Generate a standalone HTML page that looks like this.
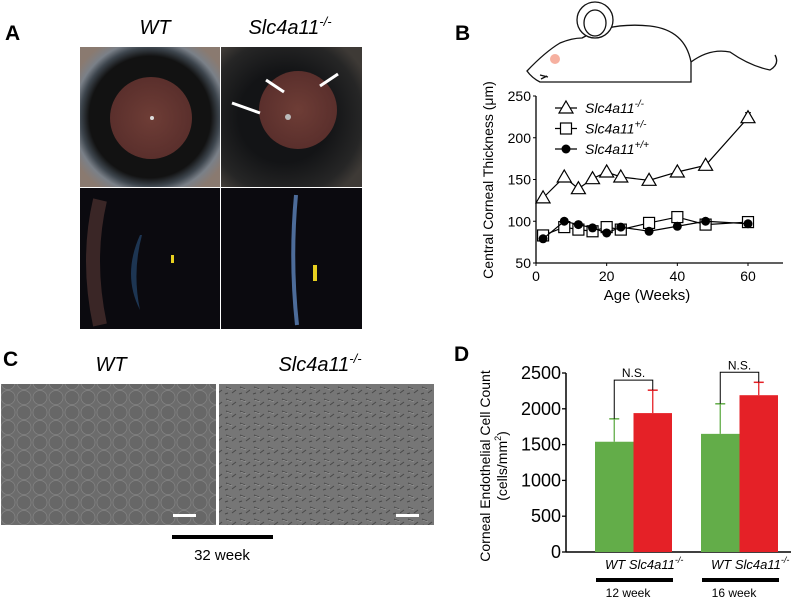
<!DOCTYPE html>
<html><head><meta charset="utf-8"><style>
body{margin:0;background:#fff}
svg{display:block;font-family:"Liberation Sans",Arial,sans-serif}
</style></head><body>
<svg id="fig" width="797" height="600" viewBox="0 0 797 600" xmlns="http://www.w3.org/2000/svg">
<defs>
<radialGradient id="eyeWT" cx="0.5" cy="0.5" r="0.62">
<stop offset="0.7" stop-color="#121212"/><stop offset="0.8" stop-color="#3e464e"/><stop offset="0.88" stop-color="#7a8088"/><stop offset="1" stop-color="#8a7a70"/></radialGradient>
<radialGradient id="eyeKO" cx="0.45" cy="0.5" r="0.65">
<stop offset="0.5" stop-color="#131416"/><stop offset="0.85" stop-color="#262626"/><stop offset="1" stop-color="#3e3a36"/></radialGradient>
<radialGradient id="pupil" cx="0.5" cy="0.5" r="0.5"><stop offset="0" stop-color="#6e3d36"/><stop offset="1" stop-color="#5a2f2c"/></radialGradient>
<pattern id="cells" width="16" height="15" patternUnits="userSpaceOnUse"><rect width="16" height="15" fill="#6c6c6c"/><circle cx="8" cy="7.5" r="7" fill="#676767" stroke="#848484" stroke-width="0.7"/></pattern>
<pattern id="cellsKO" width="14" height="12" patternUnits="userSpaceOnUse"><rect width="14" height="12" fill="#767676"/><path d="M2 3 l5 2 M8 9 l4 -3 M1 10 l3 -1" stroke="#484848" stroke-width="1"/><path d="M3 4 l5 2" stroke="#a0a0a0" stroke-width="0.6"/></pattern>
</defs>

<!-- Panel A -->
<text x="5" y="40" font-size="21" font-weight="bold">A</text>
<text x="155" y="34" font-size="20" font-style="italic" text-anchor="middle">WT</text>
<text x="290" y="34" font-size="20" font-style="italic" text-anchor="middle">Slc4a11<tspan font-size="13" dy="-8">-/-</tspan></text>
<g>
<rect x="80" y="47" width="140" height="140" fill="url(#eyeWT)"/>
<circle cx="151" cy="118" r="41" fill="url(#pupil)"/>
<circle cx="152" cy="118" r="2" fill="#ddd"/>
</g>
<g>
<rect x="221" y="47" width="141" height="140" fill="url(#eyeKO)"/>
<circle cx="298" cy="110" r="39" fill="url(#pupil)"/>
<circle cx="288" cy="117" r="3" fill="#bbb"/>
<path d="M338 74 L320 86 M266 80 L284 92 M232 103 L260 113" stroke="#fff" stroke-width="3"/>
</g>
<g>
<rect x="80" y="188" width="140" height="141" fill="#0b0a0f"/>
<path d="M100 200 Q86 260 100 325" stroke="#3a2626" stroke-width="14" fill="none"/>
<path d="M140 235 Q122 275 140 310 Q132 272 142 235Z" fill="#1d3552"/>
<rect x="171" y="255" width="3" height="8" fill="#e8d020"/>
</g>
<g>
<rect x="221" y="188" width="141" height="141" fill="#0b0a0f"/>
<path d="M296 195 Q290 260 297 325" stroke="#4d6c9a" stroke-width="4" fill="none"/>
<rect x="313" y="265" width="4" height="16" fill="#e8d020"/>
</g>

<!-- Panel B -->
<text x="455" y="40" font-size="21" font-weight="bold">B</text>
<g fill="none" stroke="#111" stroke-width="1.3">
<path d="M527 71 Q545 52 560 43 Q572 38 582 38 Q610 22 650 26 Q685 30 691 62 L691 82 L540 82 Q532 78 527 71Z" fill="#fff"/>
<circle cx="595" cy="20" r="18" fill="#fff"/>
<ellipse cx="595" cy="23" rx="11" ry="13"/>
<path d="M691 62 Q710 48 730 52 Q750 66 770 70 Q780 64 775 55"/>
<path d="M540 75 l8 2 M541 79 l6 -3"/>
</g>
<circle cx="555" cy="59" r="5" fill="#f6b0a0"/>
<g id="chartB"></g>

<!-- Panel C -->
<text x="3" y="366" font-size="21" font-weight="bold">C</text>
<text x="111" y="371" font-size="20" font-style="italic" text-anchor="middle">WT</text>
<text x="320" y="371" font-size="20" font-style="italic" text-anchor="middle">Slc4a11<tspan font-size="13" dy="-8">-/-</tspan></text>
<rect x="1" y="384" width="215" height="141" fill="url(#cells)"/>
<rect x="219" y="384" width="215" height="141" fill="url(#cellsKO)"/>
<rect x="173" y="514" width="23" height="3" fill="#fff"/>
<rect x="396" y="514" width="23" height="3" fill="#fff"/>
<rect x="172" y="535" width="101" height="4" fill="#000"/>
<text x="222" y="560" font-size="15" text-anchor="middle">32 week</text>

<!-- Panel D -->
<text x="454" y="361" font-size="21" font-weight="bold">D</text>
<g id="chartD"></g>
</svg>
<script>
const NS="http://www.w3.org/2000/svg";
function mk(p,t,a,txt){const e=document.createElementNS(NS,t);for(const k in a)e.setAttribute(k,a[k]);if(txt!=null)e.textContent=txt;p.appendChild(e);return e;}

// ---- Chart B data ----
const bWeeks=[2,8,12,16,20,24,32,40,48,60];
const bKO=[128,153,139,151,159,153,149,159,167,224];
const bKOErr=[0,0,0,0,0,0,0,0,0,6];
const bHet=[83,93,90,88,93,90,98,105,96,99];
const bWT=[79,100,96,92,86,93,88,94,100,97];
const bXTicks=[0,20,40,60];
const bYTicks=[50,100,150,200,250];

const gB=document.getElementById('chartB');
const bx=v=>536+(v)*(748-536)/60, by=v=>263-(v-50)*(263-96)/200;
let e=mk(gB,'line',{x1:536,y1:263,x2:783,y2:263,stroke:'#000','stroke-width':1.3});


e=mk(gB,'line',{x1:536,y1:96,x2:536,y2:263,stroke:'#000','stroke-width':1.3});


bYTicks.forEach(t=>{mk(gB,'line',{x1:533,x2:536,y1:by(t),y2:by(t),stroke:'#000'});
e=mk(gB,'text',{x:531,y:by(t)+5,'font-size':14,'text-anchor':'end'},t);

});
bXTicks.forEach(t=>{mk(gB,'line',{x1:bx(t),x2:bx(t),y1:263,y2:266,stroke:'#000'});
e=mk(gB,'text',{x:bx(t),y:281,'font-size':14,'text-anchor':'middle'},t);

});
e=mk(gB,'text',{x:647,y:300,'font-size':15,'text-anchor':'middle'},'Age (Weeks)');


e=mk(gB,'text',{transform:'translate(493,180) rotate(-90)','font-size':14,'text-anchor':'middle'},'Central Corneal Thickness (μm)');


function marker(g,type,x,y){
 if(type==='tri')return mk(g,'path',{d:`M${x} ${y-7}L${x+7} ${y+5}L${x-7} ${y+5}Z`,fill:'#fff',stroke:'#000','stroke-width':1.2});
 if(type==='sq')return mk(g,'rect',{x:x-5.5,y:y-5.5,width:11,height:11,fill:'#fff',stroke:'#000','stroke-width':1.2});
 return mk(g,'circle',{cx:x,cy:y,r:4.5,fill:'#000'});
}
const series=[['ko-series',bKO,'tri'],['het-series',bHet,'sq'],['wt-series',bWT,'dot']];
series.forEach(([nm,vals,type])=>{
 const g=mk(gB,'g',{});
 
 
 mk(g,'polyline',{points:vals.map((v,i)=>bx(bWeeks[i])+','+by(v)).join(' '),fill:'none',stroke:'#000','stroke-width':1.2});
 if(nm==='ko-series')vals.forEach((v,i)=>{if(bKOErr[i]){mk(g,'line',{x1:bx(bWeeks[i]),x2:bx(bWeeks[i]),y1:by(v),y2:by(v+bKOErr[i]),stroke:'#000'});mk(g,'line',{x1:bx(bWeeks[i])-3,x2:bx(bWeeks[i])+3,y1:by(v+bKOErr[i]),y2:by(v+bKOErr[i]),stroke:'#000'});}});
 vals.forEach((v,i)=>{const m=marker(g,type,bx(bWeeks[i]),by(v));
 
 });
});
const legend=[['tri','Slc4a11','-/-'],['sq','Slc4a11','+/-'],['dot','Slc4a11','+/+']];
legend.forEach(([type,t,s],i)=>{const y=108+i*20.5;
 const g=mk(gB,'g',{});
 
 
 mk(g,'line',{x1:555,x2:577,y1:y,y2:y,stroke:'#000','stroke-width':1.2});
 marker(g,type,566,y);
 const tx=mk(g,'text',{x:585,y:y+5,'font-size':14,'font-style':'italic'},t);
 mk(tx,'tspan',{'font-size':10,dy:-6},s);
});

// ---- Chart D data ----
const dGroups=['12 week','16 week'];
const dWT=[1540,1650];
const dWTErr=[320,420];
const dKO=[1940,2190];
const dKOErr=[320,180];
const dYTicks=[0,500,1000,1500,2000,2500];

const gD=document.getElementById('chartD');
const dy=v=>552-v*(552-373)/2500;
const gx=[595,701], bw=38.5;
e=mk(gD,'line',{x1:566,y1:552,x2:791,y2:552,stroke:'#000','stroke-width':1.5});


e=mk(gD,'line',{x1:566,y1:373,x2:566,y2:552,stroke:'#000','stroke-width':1.5});


dYTicks.forEach(t=>{mk(gD,'line',{x1:562,x2:566,y1:dy(t),y2:dy(t),stroke:'#000','stroke-width':1.3});
e=mk(gD,'text',{x:561,y:dy(t)+6,'font-size':18,'text-anchor':'end'},t);

});
e=mk(gD,'text',{transform:'translate(490,466) rotate(-90)','font-size':14,'text-anchor':'middle'},'Corneal Endothelial Cell Count');


e=mk(gD,'text',{transform:'translate(507,466) rotate(-90)','font-size':14,'text-anchor':'middle'},'(cells/mm');


mk(e,'tspan',{'font-size':9,dy:-6},'2');mk(e,'tspan',{dy:6},')');
dGroups.forEach((gname,i)=>{
 const x0=gx[i];
 [[dWT[i],dWTErr[i],'#63ad49',x0,'bar-wt'],[dKO[i],dKOErr[i],'#e52127',x0+bw,'bar-ko']].forEach(([v,er,c,x,nm])=>{
  const cx=x+bw/2;
  mk(gD,'line',{x1:cx,x2:cx,y1:dy(v),y2:dy(v+er),stroke:c,'stroke-width':1.3});
  mk(gD,'line',{x1:cx-5,x2:cx+5,y1:dy(v+er),y2:dy(v+er),stroke:c,'stroke-width':1.5});
  const r=mk(gD,'rect',{x:x,y:dy(v),width:bw,height:552-dy(v),fill:c});
  
  
 });
 const x1=x0+bw/2,x2=x0+bw*1.5,top=Math.min(dy(dWT[i]+dWTErr[i]),dy(dKO[i]+dKOErr[i]))-10;
 const br=mk(gD,'path',{d:`M${x1} ${dy(dWT[i]+dWTErr[i])}V${top}H${x2}V${dy(dKO[i]+dKOErr[i])}`,fill:'none',stroke:'#000','stroke-width':1});
 
 
 e=mk(gD,'text',{x:(x1+x2)/2,y:top-3,'font-size':12,'text-anchor':'middle'},'N.S.');
 
 
 e=mk(gD,'text',{x:x0+10,y:569,'font-size':13,'font-style':'italic'},'WT Slc4a11');
 
 
 mk(e,'tspan',{'font-size':9,dy:-6},'-/-');
 e=mk(gD,'rect',{x:x0+1,y:578,width:77,height:4,fill:'#000'});
 
 
 e=mk(gD,'text',{x:x0+33,y:597,'font-size':12,'text-anchor':'middle'},gname);
 
 
});
</script>
</body></html>
